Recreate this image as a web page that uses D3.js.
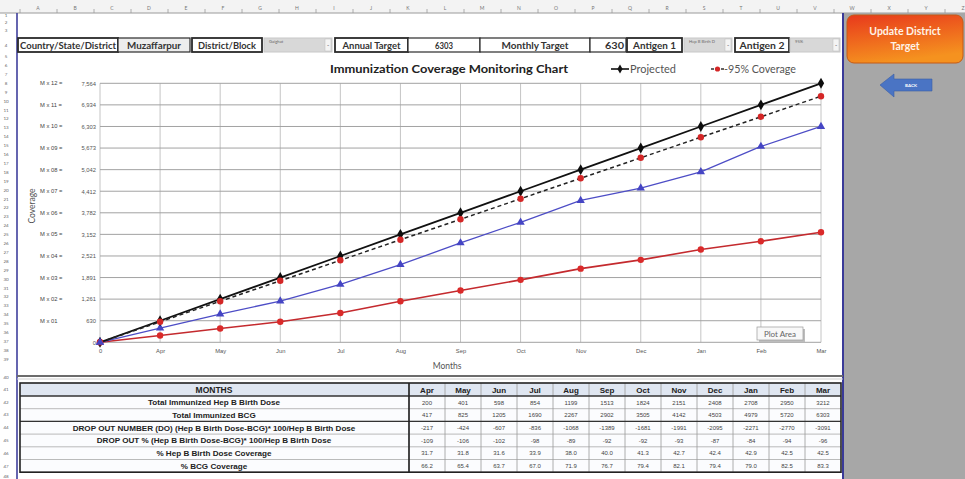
<!DOCTYPE html>
<html>
<head>
<meta charset="utf-8">
<script src="https://cdn.jsdelivr.net/npm/d3@7"></script>
<style>
  html, body { margin: 0; padding: 0; background: #fff; }
  svg { display: block; font-family: Lato, "Open Sans", Arial, sans-serif; }
</style>
</head>
<body>
<svg id="sheet" width="965" height="479"></svg>
<script>
// ---- Data ----
const months = ["Apr", "May", "Jun", "Jul", "Aug", "Sep", "Oct", "Nov", "Dec", "Jan", "Feb", "Mar"];
const axisCategories = ["0", "Apr", "May", "Jun", "Jul", "Aug", "Sep", "Oct", "Nov", "Dec", "Jan", "Feb", "Mar"];

// cumulative monthly target (M x n) and the 95% coverage line
const projected  = [0, 630, 1261, 1891, 2521, 3152, 3782, 4412, 5042, 5673, 6303, 6934, 7564];
const coverage95 = [0, 599, 1198, 1796, 2395, 2994, 3593, 4192, 4790, 5389, 5988, 6587, 7186];
const tickPrefixes = ["", "M x 01", "M x 02 =", "M x 03 =", "M x 04 =", "M x 05 =", "M x 06 =",
                      "M x 07 =", "M x 08 =", "M x 09 =", "M x 10 =", "M x 11 =", "M x 12 ="];

// table rows
const hepBBirthDose = [200, 401, 598, 854, 1199, 1513, 1824, 2151, 2408, 2708, 2950, 3212];
const bcgImmunized  = [417, 825, 1205, 1690, 2267, 2902, 3505, 4142, 4503, 4979, 5720, 6303];
const dropOutNumber = [-217, -424, -607, -836, -1068, -1389, -1681, -1991, -2095, -2271, -2770, -3091];
const dropOutPct    = [-109, -106, -102, -98, -89, -92, -92, -93, -87, -84, -94, -96];
const hepBCoverage  = ["31.7", "31.8", "31.6", "33.9", "38.0", "40.0", "41.3", "42.7", "42.4", "42.9", "42.5", "42.5"];
const bcgCoverage   = ["66.2", "65.4", "63.7", "67.0", "71.9", "76.7", "79.4", "82.1", "79.4", "79.0", "82.5", "83.3"];
const rowLabels = [
  "Total Immunized Hep B Birth Dose",
  "Total Immunized BCG",
  "DROP OUT NUMBER (DO) (Hep B Birth Dose-BCG)* 100/Hep B Birth Dose",
  "DROP OUT % (Hep B Birth Dose-BCG)* 100/Hep B Birth Dose",
  "% Hep B Birth Dose Coverage",
  "% BCG Coverage"
];

// header form fields
const formTexts = ["Country/State/District", "Muzaffarpur", "District/Block", "Gaighat",
                   "Annual Target", "6303", "Monthly Target", "630", "Antigen 1",
                   "Hep B Birth D", "Antigen 2", "95%"];

// ---- Drawing ----
const svg = d3.select("#sheet");

// worksheet chrome: column ruler, row numbers, side panel
svg.append("rect").attr("x", 0).attr("y", 0).attr("width", 965).attr("height", 13).attr("fill", "#f3f3f3");
svg.append("line").attr("x1", 0).attr("x2", 965).attr("y1", 13).attr("y2", 13).attr("stroke", "#9a9a9a");
svg.append("g").selectAll("line").data(d3.range(0, 27)).join("line")
  .attr("x1", i => 20 + i * 37).attr("x2", i => 20 + i * 37)
  .attr("y1", 9).attr("y2", 13).attr("stroke", "#999").attr("stroke-width", 0.8);
svg.append("g").selectAll("text").data(d3.range(0, 26)).join("text")
  .attr("x", i => 38 + i * 37).attr("y", 10).attr("text-anchor", "middle")
  .attr("font-size", 5).attr("fill", "#777")
  .text(i => String.fromCharCode(65 + i));

const rowY = [];
[15, 22, 30, 45, 56].forEach(v => rowY.push(v));
for (let r = 6; r <= 39; r++) rowY.push(65 + (r - 6) * 8.9);
rowY.push(377);
[389, 402, 414, 427, 440, 453, 466, 476].forEach(v => rowY.push(v));
svg.append("g").selectAll("text").data(rowY).join("text")
  .attr("x", 6).attr("y", d => d + 2).attr("text-anchor", "middle")
  .attr("font-size", 4.5).attr("fill", "#666")
  .text((d, i) => i + 1);
svg.append("line").attr("x1", 17).attr("x2", 17).attr("y1", 13).attr("y2", 479)
  .attr("stroke", "#3f3f9c").attr("stroke-width", 1.6);

svg.append("rect").attr("x", 844).attr("y", 13).attr("width", 121).attr("height", 466).attr("fill", "#a7a7a7");
svg.append("line").attr("x1", 843).attr("x2", 843).attr("y1", 13).attr("y2", 479)
  .attr("stroke", "#3a3a98").attr("stroke-width", 2);

// update button
const defs = svg.append("defs");
const grad = defs.append("linearGradient").attr("id", "btnGrad").attr("x1", 0).attr("y1", 0).attr("x2", 0.3).attr("y2", 1);
grad.append("stop").attr("offset", "0%").attr("stop-color", "#e8391c");
grad.append("stop").attr("offset", "100%").attr("stop-color", "#f5921f");
svg.append("rect").attr("x", 847).attr("y", 15).attr("width", 116).attr("height", 48).attr("rx", 7)
  .attr("fill", "url(#btnGrad)").attr("stroke", "#c45a16").attr("stroke-width", 1);
svg.append("text").attr("x", 905).attr("y", 35).attr("text-anchor", "middle")
  .attr("font-size", 10.5).attr("font-weight", "bold").attr("fill", "#fff3e6").text("Update District");
svg.append("text").attr("x", 905).attr("y", 50).attr("text-anchor", "middle")
  .attr("font-size", 10.5).attr("font-weight", "bold").attr("fill", "#fff3e6").text("Target");

// back arrow
svg.append("path")
  .attr("d", "M880,85 L894,74 L894,79 L932,79 L932,91 L894,91 L894,97 Z")
  .attr("fill", "#4a74c4").attr("stroke", "#3a5ea5").attr("stroke-width", 0.6);
svg.append("text").attr("x", 911).attr("y", 87).attr("text-anchor", "middle")
  .attr("font-size", 4.5).attr("font-weight", "bold").attr("fill", "#fff").text("BACK");

// form row
const formLayout = [
  { x: 18, w: 100, kind: "label", tl: 96 },
  { x: 118, w: 72, kind: "value", tl: 54 },
  { x: 192, w: 70, kind: "label", tl: 58 },
  { x: 264, w: 68, kind: "drop" },
  { x: 335, w: 73, kind: "label", tl: 58 },
  { x: 408, w: 72, kind: "plain", tl: 18 },
  { x: 480, w: 110, kind: "plain", tl: 67 },
  { x: 590, w: 36, kind: "right", tl: 19 },
  { x: 627, w: 55, kind: "label", tl: 43 },
  { x: 684, w: 48, kind: "drop" },
  { x: 735, w: 54, kind: "label", tl: 45 },
  { x: 790, w: 50, kind: "drop" }
];
const form = svg.append("g");
formLayout.forEach((f, i) => {
  const g = form.append("g");
  if (f.kind === "drop") {
    g.append("rect").attr("x", f.x).attr("y", 38).attr("width", f.w).attr("height", 14)
      .attr("fill", "#d8d8d8").attr("stroke", "#c8c8c8");
    g.append("rect").attr("x", f.x + f.w - 7).attr("y", 39).attr("width", 6).attr("height", 12)
      .attr("fill", "#f4f4f4").attr("stroke", "#bbb").attr("stroke-width", 0.5);
    g.append("text").attr("x", f.x + f.w - 4).attr("y", 47).attr("text-anchor", "middle")
      .attr("font-size", 6).attr("fill", "#333").text("-");
    g.append("text").attr("x", f.x + 5).attr("y", 43).attr("font-size", 4.2).attr("fill", "#666")
      .text(formTexts[i]);
  } else {
    g.append("rect").attr("x", f.x).attr("y", 38).attr("width", f.w).attr("height", 14)
      .attr("fill", f.kind === "value" ? "#ededed" : "#fff")
      .attr("stroke", "#2a2a2a").attr("stroke-width", f.kind === "label" ? 1.8 : 1.2);
    const t = g.append("text").attr("y", 48.5)
      .attr("font-size", 9.5).attr("font-weight", "bold").attr("fill", "#333")
      .attr("textLength", f.tl).attr("lengthAdjust", "spacingAndGlyphs")
      .text(formTexts[i]);
    if (f.kind === "right") t.attr("x", f.x + f.w - 2).attr("text-anchor", "end");
    else t.attr("x", f.x + f.w / 2).attr("text-anchor", "middle");
  }
});

// ---- Chart ----
const x = d3.scalePoint().domain(axisCategories).range([100, 821]);
const y = d3.scaleLinear().domain([0, 7564]).range([342.3, 83.3]);

const chart = svg.append("g");

// title and legend
chart.append("text").attr("x", 449).attr("y", 73).attr("text-anchor", "middle")
  .attr("font-size", 12).attr("font-weight", "bold").attr("fill", "#222")
  .attr("textLength", 238).attr("lengthAdjust", "spacingAndGlyphs")
  .text("Immunization Coverage Monitoring Chart");

const legend = chart.append("g");
legend.append("line").attr("x1", 611).attr("x2", 629).attr("y1", 69).attr("y2", 69)
  .attr("stroke", "#111").attr("stroke-width", 1.6);
legend.append("path").attr("d", d3.symbol(d3.symbolDiamond, 24)()).attr("transform", "translate(620,69)").attr("fill", "#111");
legend.append("text").attr("x", 630).attr("y", 72.5).attr("font-size", 10.5).attr("fill", "#555")
  .attr("textLength", 46).attr("lengthAdjust", "spacingAndGlyphs").text("Projected");
legend.append("line").attr("x1", 711).attr("x2", 724).attr("y1", 69).attr("y2", 69)
  .attr("stroke", "#333").attr("stroke-width", 1.4).attr("stroke-dasharray", "3,2");
legend.append("circle").attr("cx", 717.5).attr("cy", 69).attr("r", 2.6).attr("fill", "#d42626");
legend.append("text").attr("x", 724).attr("y", 72.5).attr("font-size", 10.5).attr("fill", "#555")
  .attr("textLength", 72).attr("lengthAdjust", "spacingAndGlyphs").text("-95% Coverage");

// grid
chart.append("g").selectAll("line").data(axisCategories).join("line")
  .attr("x1", d => x(d)).attr("x2", d => x(d)).attr("y1", y(7564)).attr("y2", y(0))
  .attr("stroke", "#c4c4c4").attr("stroke-width", 1);
chart.append("g").selectAll("line").data(projected).join("line")
  .attr("x1", x("0")).attr("x2", x("Mar")).attr("y1", d => y(d)).attr("y2", d => y(d))
  .attr("stroke", "#a2a2a2").attr("stroke-width", 1);

// y axis: values plus "M x n =" multipliers
const yAxis = chart.append("g").attr("transform", `translate(${x("0")},0)`)
  .call(d3.axisLeft(y).tickValues(projected).tickFormat(d3.format(",")).tickSize(0).tickPadding(4));
yAxis.select(".domain").remove();
yAxis.selectAll("text").attr("font-size", 5.8).attr("fill", "#555").attr("font-family", "Arial, sans-serif");
chart.append("g").selectAll("text").data(projected).join("text")
  .attr("x", 40).attr("y", d => y(d) + 2)
  .attr("font-size", 5.8).attr("fill", "#444").attr("font-family", "Arial, sans-serif")
  .text((d, i) => tickPrefixes[i]);
chart.append("text").attr("transform", "translate(35,206) rotate(-90)").attr("text-anchor", "middle")
  .attr("font-size", 8.5).attr("fill", "#555").text("Coverage");

// x axis
const xAxis = chart.append("g").attr("transform", `translate(0,${y(0)})`)
  .call(d3.axisBottom(x).tickSize(0).tickPadding(7));
xAxis.select(".domain").remove();
xAxis.selectAll("text").attr("font-size", 5.8).attr("fill", "#555").attr("font-family", "Arial, sans-serif");
chart.append("text").attr("x", 447).attr("y", 369).attr("text-anchor", "middle")
  .attr("font-size", 8.5).attr("fill", "#555").text("Months");

// series
const line = d3.line().x((d, i) => x(axisCategories[i])).y(d => y(d));
const hepSeries = [0, ...hepBBirthDose];
const bcgSeries = [0, ...bcgImmunized];

chart.append("path").datum(hepSeries).attr("d", line).attr("fill", "none")
  .attr("stroke", "#c42a2e").attr("stroke-width", 1.6);
chart.append("g").selectAll("circle").data(hepSeries).join("circle")
  .attr("cx", (d, i) => x(axisCategories[i])).attr("cy", d => y(d)).attr("r", 3.2).attr("fill", "#da2a2a");

chart.append("path").datum(bcgSeries).attr("d", line).attr("fill", "none")
  .attr("stroke", "#4d4dc6").attr("stroke-width", 1.3);
chart.append("g").selectAll("path").data(bcgSeries).join("path")
  .attr("d", d3.symbol(d3.symbolTriangle, 30)())
  .attr("transform", (d, i) => `translate(${x(axisCategories[i])},${y(d)})`).attr("fill", "#4545c4");

chart.append("path").datum(projected).attr("d", line).attr("fill", "none")
  .attr("stroke", "#111").attr("stroke-width", 1.8);
chart.append("g").selectAll("path").data(projected).join("path")
  .attr("d", d3.symbol(d3.symbolDiamond, 34)())
  .attr("transform", (d, i) => `translate(${x(axisCategories[i])},${y(d)})`).attr("fill", "#0d0d0d");

chart.append("path").datum(coverage95).attr("d", line).attr("fill", "none")
  .attr("stroke", "#222").attr("stroke-width", 1.5).attr("stroke-dasharray", "4,3");
chart.append("g").selectAll("circle").data(coverage95).join("circle")
  .attr("cx", (d, i) => x(axisCategories[i])).attr("cy", d => y(d)).attr("r", 3.2).attr("fill", "#d42626");

// first point sits under a blue marker
chart.append("path").attr("d", d3.symbol(d3.symbolTriangle, 30)())
  .attr("transform", `translate(${x("0")},${y(0)})`).attr("fill", "#4545c4");

// plot-area tooltip
const tip = chart.append("g");
tip.append("rect").attr("x", 759).attr("y", 329).attr("width", 46).attr("height", 13).attr("fill", "#bdbdbd");
tip.append("rect").attr("x", 757).attr("y", 327).attr("width", 46).attr("height", 13)
  .attr("fill", "#f8f8f8").attr("stroke", "#9a9a9a").attr("stroke-width", 0.7);
tip.append("text").attr("x", 780).attr("y", 336.5).attr("text-anchor", "middle")
  .attr("font-size", 8).attr("fill", "#666").text("Plot Area");

// separator under the chart
svg.append("line").attr("x1", 17).attr("x2", 843).attr("y1", 376).attr("y2", 376).attr("stroke", "#6c6c6c").attr("stroke-width", 2);
svg.append("line").attr("x1", 17).attr("x2", 843).attr("y1", 379).attr("y2", 379).attr("stroke", "#cfcfcf").attr("stroke-width", 1);

// ---- Table ----
const table = svg.append("g");
const colX = d3.scaleBand().domain(months).range([409, 841]);
const tableRows = [hepBBirthDose, bcgImmunized, dropOutNumber, dropOutPct, hepBCoverage, bcgCoverage];
const tTop = 383, headH = 13, rowH = 12.7;
const tBottom = tTop + headH + rowH * tableRows.length;

table.append("rect").attr("x", 20).attr("y", tTop).attr("width", 821).attr("height", headH).attr("fill", "#dfe6f1");
table.append("rect").attr("x", 20).attr("y", tTop + headH).attr("width", 821).attr("height", rowH * 6).attr("fill", "#fbfcfe");

// light cell grid
tableRows.forEach((r, i) => {
  table.append("line").attr("x1", 20).attr("x2", 841)
    .attr("y1", tTop + headH + rowH * (i + 1)).attr("y2", tTop + headH + rowH * (i + 1))
    .attr("stroke", "#a9a9a9").attr("stroke-width", 0.8);
});
months.forEach(m => {
  table.append("line").attr("x1", colX(m)).attr("x2", colX(m)).attr("y1", tTop).attr("y2", tBottom)
    .attr("stroke", "#9a9a9a").attr("stroke-width", 0.8);
});
// heavy rules
table.append("line").attr("x1", 20).attr("x2", 841).attr("y1", tTop + headH).attr("y2", tTop + headH)
  .attr("stroke", "#333").attr("stroke-width", 1.4);
table.append("line").attr("x1", 20).attr("x2", 841).attr("y1", tTop + headH + rowH * 2).attr("y2", tTop + headH + rowH * 2)
  .attr("stroke", "#333").attr("stroke-width", 1.4);
table.append("line").attr("x1", 409).attr("x2", 409).attr("y1", tTop).attr("y2", tBottom)
  .attr("stroke", "#222").attr("stroke-width", 1.6);
table.append("rect").attr("x", 20).attr("y", tTop).attr("width", 821).attr("height", tBottom - tTop)
  .attr("fill", "none").attr("stroke", "#222").attr("stroke-width", 1.6);

// header texts
table.append("text").attr("x", 214).attr("y", tTop + 9.5).attr("text-anchor", "middle")
  .attr("font-family", "Arial, sans-serif").attr("font-size", 8.5).attr("font-weight", "bold").attr("fill", "#222")
  .text("MONTHS");
table.append("g").selectAll("text").data(months).join("text")
  .attr("x", m => colX(m) + colX.bandwidth() / 2).attr("y", tTop + 9.5).attr("text-anchor", "middle")
  .attr("font-family", "Arial, sans-serif").attr("font-size", 8).attr("font-weight", "bold").attr("fill", "#222")
  .text(m => m);

// row labels and values
rowLabels.forEach((lab, i) => {
  const cy = tTop + headH + rowH * i + 9.2;
  table.append("text").attr("x", 214).attr("y", cy).attr("text-anchor", "middle")
    .attr("font-family", "Arial, sans-serif").attr("font-size", 8.1).attr("font-weight", "bold").attr("fill", "#222")
    .text(lab);
  table.append("g").selectAll("text").data(tableRows[i]).join("text")
    .attr("x", (d, j) => colX(months[j]) + colX.bandwidth() / 2).attr("y", cy - 0.7)
    .attr("text-anchor", "middle").attr("font-family", "Arial, sans-serif")
    .attr("font-size", 6).attr("fill", "#444")
    .text(d => d);
});
</script>
</body>
</html>
